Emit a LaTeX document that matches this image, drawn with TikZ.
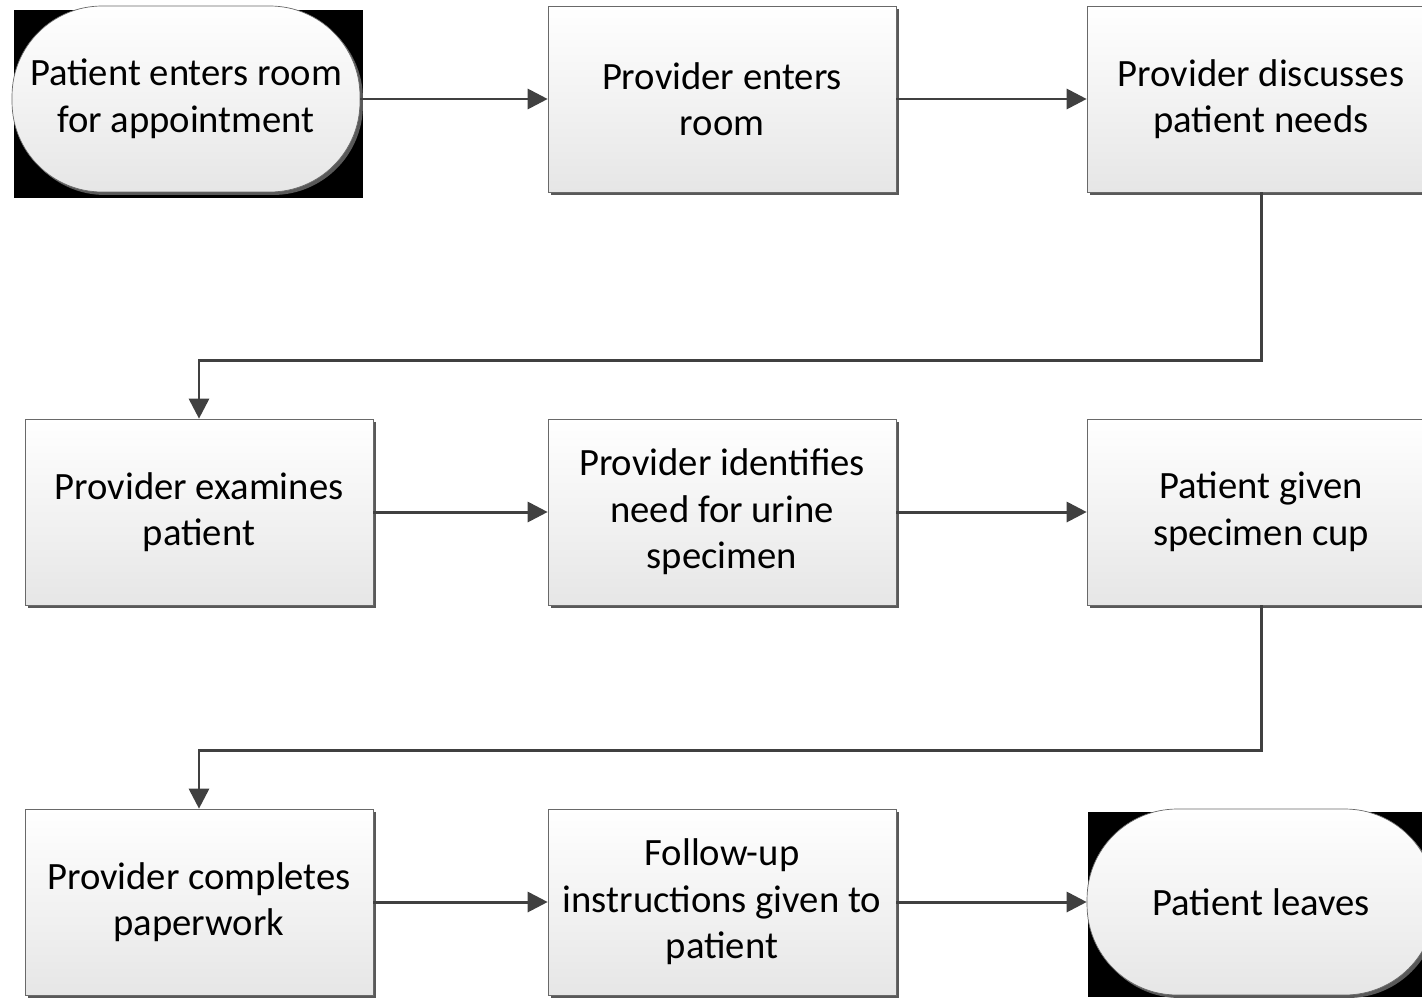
\documentclass[tikz,border=0pt]{standalone}
\usepackage{fontspec}
\setmainfont{Carlito}
\usepackage{xcolor}
\definecolor{linegray}{RGB}{64, 64, 64}
\definecolor{boxedge}{RGB}{105, 105, 105}
\definecolor{boxbottom}{RGB}{230, 230, 230}
\usetikzlibrary{arrows.meta, positioning, shadows}

\begin{document}
\begin{tikzpicture}[x=0.02cm, y=-0.02cm, >=Stealth,
    process/.style={draw=boxedge, thin, top color=white, bottom color=boxbottom,
        minimum width=6.96cm, minimum height=3.72cm, align=center,
        font=\fontsize{22}{26.5}\selectfont,
        general shadow={shadow xshift=0.06cm, shadow yshift=-0.06cm, fill=black!65}},
    terminal/.style={process, rounded corners=1.8cm},
    flow/.style={-{Triangle[length=0.4cm, width=0.4cm]}, line width=1.7pt, linegray}]
    \useasboundingbox (0,0) rectangle (1422,997);

    % dark backing behind the two terminals
    \fill[black] (14,10) rectangle (363,198);
    \fill[black] (1088,812) rectangle (1422,997);

    % row 1
    \node[terminal] (start) at (186,99) {Patient enters room\\for appointment};
    \node[process] (enter) at (722,99) {Provider enters\\room};
    \node[process] (discuss) at (1261,99) {Provider discusses\\patient needs};

    % row 2
    \node[process] (examine) at (199,512) {Provider examines\\patient};
    \node[process] (identify) at (722,512) {Provider identifies\\need for urine\\specimen};
    \node[process] (cup) at (1261,512) {Patient given\\specimen cup};

    % row 3
    \node[process] (paperwork) at (199,902) {Provider completes\\paperwork};
    \node[process] (followup) at (722,902) {Follow-up\\instructions given to\\patient};
    \node[terminal] (leave) at (1261,902) {Patient leaves};

    % connectors
    \draw[flow] (start) -- (enter);
    \draw[flow] (enter) -- (discuss);
    \draw[flow] (discuss.south) -- ++(0,168) -| (examine.north);
    \draw[flow] (examine) -- (identify);
    \draw[flow] (identify) -- (cup);
    \draw[flow] (cup.south) -- ++(0,145) -| (paperwork.north);
    \draw[flow] (paperwork) -- (followup);
    \draw[flow] (followup) -- (leave);
\end{tikzpicture}
\end{document}
